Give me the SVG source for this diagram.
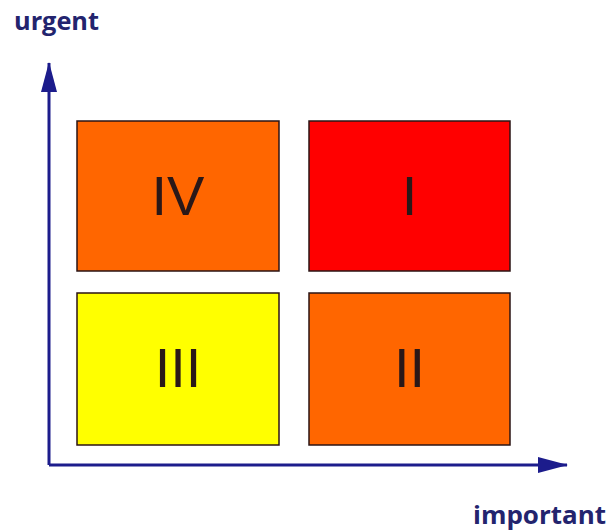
<svg xmlns="http://www.w3.org/2000/svg" width="607" height="532" viewBox="0 0 607 532">
<style>
.box{stroke:#2b1414;stroke-width:1.5}
.num{font-family:"Liberation Sans",Arial,sans-serif;font-size:56px;fill:#2a1818;text-anchor:middle}
.lbl{font-family:"Open Sans","Liberation Sans",sans-serif;font-weight:bold;font-size:25px;fill:#23246e}
.axis{stroke:#1c1c8c;stroke-width:3;fill:none}
</style>
<defs>
<marker id="ah" viewBox="0 0 30 16" refX="29" refY="8" markerWidth="30" markerHeight="16" markerUnits="userSpaceOnUse" orient="auto">
<path d="M0,0 L30,8 L0,16 Z" fill="#1c1c8c"/>
</marker>
</defs>
<rect width="607" height="532" fill="#ffffff"/>
<g id="connectors">
<path class="axis" d="M49,465 L49,63" marker-end="url(#ah)"/>
<path class="axis" d="M49,465 L567,465" marker-end="url(#ah)"/>
</g>
<g id="label-urgent"><text class="lbl" x="14" y="30" textLength="85" lengthAdjust="spacingAndGlyphs">urgent</text></g>
<g id="label-important"><text class="lbl" x="473" y="524" textLength="133" lengthAdjust="spacingAndGlyphs">important</text></g>
<g id="q4"><rect class="box" x="77" y="121" width="202" height="150" fill="#ff6600"/><text class="num" x="178" y="215">IV</text></g>
<g id="q1"><rect class="box" x="309" y="121" width="201" height="150" fill="#ff0000"/><text class="num" x="409.5" y="215">I</text></g>
<g id="q3"><rect class="box" x="77" y="293" width="202" height="152" fill="#ffff00"/><text class="num" x="178" y="387">III</text></g>
<g id="q2"><rect class="box" x="309" y="293" width="201" height="152" fill="#ff6600"/><text class="num" x="409.5" y="387">II</text></g>
</svg>
